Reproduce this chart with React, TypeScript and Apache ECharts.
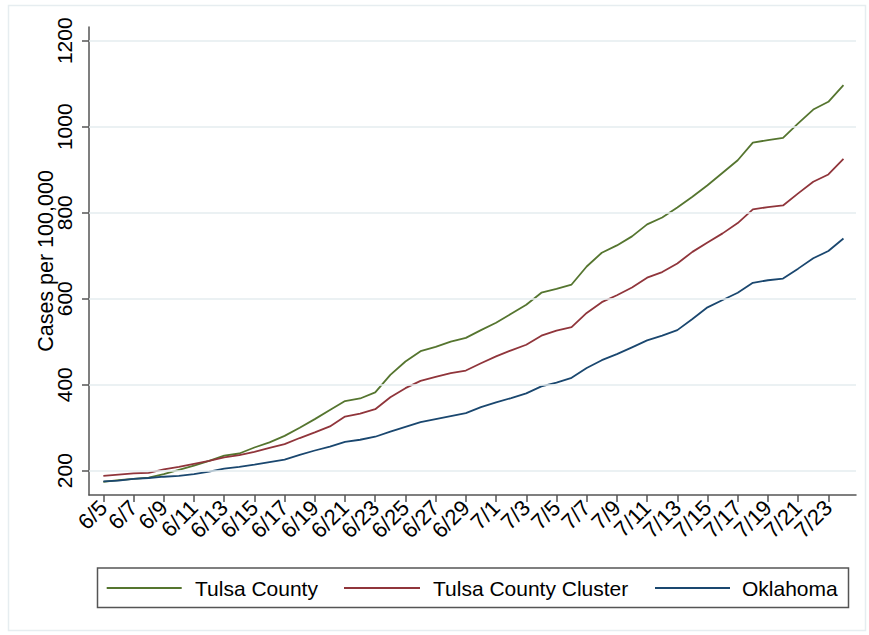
import React, { useEffect, useRef } from "react";
import * as echarts from "echarts";

const dates = [
  "6/5","6/6","6/7","6/8","6/9","6/10","6/11","6/12","6/13","6/14",
  "6/15","6/16","6/17","6/18","6/19","6/20","6/21","6/22","6/23","6/24",
  "6/25","6/26","6/27","6/28","6/29","6/30","7/1","7/2","7/3","7/4",
  "7/5","7/6","7/7","7/8","7/9","7/10","7/11","7/12","7/13","7/14",
  "7/15","7/16","7/17","7/18","7/19","7/20","7/21","7/22","7/23","7/24",
];

const tulsaCounty = [
  174,178,181,184,192,202,212,223,235,240,
  254,266,281,300,320,341,362,368,382,423,
  454,478,488,500,509,527,544,565,586,614,
  623,633,675,707,724,745,773,789,812,837,
  864,893,922,963,969,974,1008,1040,1058,1097,
];

const tulsaCluster = [
  188,191,194,195,203,209,216,223,231,236,
  244,253,262,276,289,303,326,333,343,371,
  392,409,418,427,433,450,466,480,493,514,
  526,534,567,592,608,626,649,662,682,709,
  731,752,776,808,813,817,845,872,889,925,
];

const oklahoma = [
  175,177,181,183,186,188,192,198,205,209,
  214,220,226,237,247,256,267,272,279,291,
  302,313,320,327,334,348,359,369,380,396,
  405,416,439,457,471,487,503,514,527,553,
  580,597,614,637,643,647,670,694,711,740,
];

const seriesNames = ["Tulsa County", "Tulsa County Cluster", "Oklahoma"];
const seriesColors = ["#55752f", "#90353b", "#1a476f"];
const yTicks = [200, 400, 600, 800, 1000, 1200];
const xTickIdx = dates.map((_, i) => i).filter((i) => i % 2 === 0 && i <= 48);

const X_MIN = -0.95;
const X_MAX = 49.83;

const FONT = "Arial, 'Liberation Sans', sans-serif";

export default function App() {
  const ref = useRef<HTMLDivElement>(null);

  useEffect(() => {
    if (!ref.current) return;
    const chart = echarts.init(ref.current, null, { renderer: "svg" });
    const allData = [tulsaCounty, tulsaCluster, oklahoma];
    const axisColor = "#555555";
    // padding entries at the axis ends are hidden by showMin/MaxLabel:false
    const xCustom = [X_MIN, ...xTickIdx, X_MAX];

    const legendLayout = [
      { x1: 106.7, x2: 181.7, tx: 195 },
      { x1: 344, x2: 420, tx: 433 },
      { x1: 655, x2: 730, tx: 742 },
    ];
    const legendY = 588;

    const option: any = {
      animation: false,
      backgroundColor: "#ffffff",
      textStyle: { fontFamily: FONT },
      grid: { left: 89, right: 13, top: 27, bottom: 140, containLabel: false, outerBoundsMode: "none" },
      xAxis: {
        type: "value",
        min: X_MIN,
        max: X_MAX,
        axisLine: { show: true, onZero: false, lineStyle: { color: axisColor, width: 1.5 } },
        axisTick: {
          show: true,
          customValues: xCustom,
          length: 7,
          lineStyle: { color: axisColor, width: 1.5 },
        },
        axisLabel: {
          customValues: xCustom,
          rotate: 45,
          margin: 9,
          fontSize: 22,
          color: "#000",
          fontFamily: FONT,
          hideOverlap: false,
          showMinLabel: false,
          showMaxLabel: false,
          formatter: (v: number) => {
            if (v < 0 || v > dates.length - 1) return "";
            return dates[Math.round(v)] ?? "";
          },
        },
        splitLine: { show: false },
      },
      yAxis: {
        type: "value",
        min: 143.5,
        max: 1232,
        name: "Cases per 100,000",
        nameLocation: "middle",
        nameRotate: 90,
        nameGap: 32,
        nameMoveOverlap: false,
        nameTextStyle: { fontSize: 21.5, color: "#000", fontFamily: FONT },
        axisLine: { show: true, onZero: false, lineStyle: { color: axisColor, width: 1.5 } },
        axisTick: {
          show: true,
          customValues: yTicks,
          length: 7,
          lineStyle: { color: axisColor, width: 1.5 },
        },
        axisLabel: {
          customValues: yTicks,
          rotate: 90,
          margin: 14,
          fontSize: 21,
          color: "#000",
          fontFamily: FONT,
          showMinLabel: true,
          showMaxLabel: true,
          formatter: (v: number) => String(v),
        },
        splitLine: { show: false },
      },
      series: [
        {
          type: "line",
          name: "__grid",
          data: [],
          silent: true,
          markLine: {
            silent: true,
            symbol: ["none", "none"],
            label: { show: false },
            lineStyle: { color: "#e4ecef", width: 1.5, type: "solid" },
            data: yTicks.map((v) => ({ yAxis: v })),
          },
        },
        ...seriesNames.map((name, k) => ({
          type: "line",
          name,
          data: allData[k].map((v, i) => [i, v]),
          symbol: "none",
          showSymbol: false,
          lineStyle: { color: seriesColors[k], width: 1.8 },
          itemStyle: { color: seriesColors[k] },
          z: 3,
        })),
      ],
      graphic: [
        {
          type: "rect",
          shape: { x: 8.5, y: 5.5, width: 857, height: 625 },
          style: { fill: "none", stroke: "#e6edf0", lineWidth: 1.5 },
          silent: true,
          z: -1,
        },
        {
          type: "rect",
          shape: { x: 97.5, y: 568, width: 751, height: 39.5 },
          style: { fill: "#ffffff", stroke: axisColor, lineWidth: 1.5 },
          silent: true,
        },
        ...seriesNames.flatMap((name, k) => [
          {
            type: "line",
            shape: { x1: legendLayout[k].x1, y1: legendY, x2: legendLayout[k].x2, y2: legendY },
            style: { stroke: seriesColors[k], lineWidth: 1.8 },
            silent: true,
          },
          {
            type: "text",
            x: legendLayout[k].tx,
            y: legendY,
            style: {
              text: name,
              fill: "#000",
              fontSize: 21,
              fontFamily: FONT,
              verticalAlign: "middle",
              align: "left",
            },
            silent: true,
          },
        ]),
      ],
    };

    chart.setOption(option);
    return () => chart.dispose();
  }, []);

  return (
    <div
      ref={ref}
      style={{ position: "fixed", left: 0, top: 0, width: 869, height: 635, background: "#fff" }}
    />
  );
}
